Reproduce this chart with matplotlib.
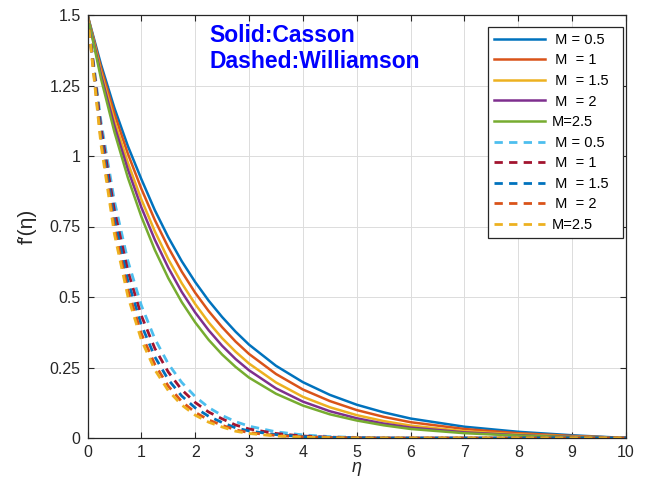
import matplotlib
matplotlib.use("Agg")
import matplotlib.pyplot as plt

plt.rcParams['font.family'] = ['Liberation Sans', 'DejaVu Sans']
plt.rcParams['mathtext.fontset'] = 'custom'
plt.rcParams['mathtext.rm'] = 'Liberation Sans'
plt.rcParams['mathtext.it'] = 'Liberation Sans:italic'
plt.rcParams['lines.scale_dashes'] = False

# eta sample points
eta = [0, 0.25, 0.5, 0.75, 1, 1.25, 1.5, 1.75, 2, 2.25, 2.5, 2.75, 3,
       3.5, 4, 4.5, 5, 5.5, 6, 7, 8, 9, 10]

# Casson (solid) f'(eta)
casson_M05 = [1.5, 1.325, 1.170, 1.035, 0.918, 0.808, 0.712, 0.627, 0.553, 0.487, 0.429, 0.377, 0.331,
              0.256, 0.198, 0.153, 0.118, 0.091, 0.069, 0.040, 0.022, 0.0097, 0]
casson_M1 = [1.5, 1.313, 1.150, 1.008, 0.884, 0.773, 0.676, 0.590, 0.515, 0.450, 0.393, 0.342, 0.298,
             0.227, 0.172, 0.131, 0.099, 0.075, 0.056, 0.032, 0.017, 0.0073, 0]
casson_M15 = [1.5, 1.299, 1.126, 0.976, 0.846, 0.733, 0.634, 0.549, 0.475, 0.410, 0.354, 0.306, 0.264,
              0.197, 0.146, 0.109, 0.081, 0.060, 0.044, 0.024, 0.0125, 0.0054, 0]
casson_M2 = [1.5, 1.288, 1.107, 0.952, 0.818, 0.703, 0.604, 0.518, 0.445, 0.382, 0.327, 0.280, 0.240,
             0.176, 0.129, 0.095, 0.070, 0.051, 0.037, 0.020, 0.010, 0.0042, 0]
casson_M25 = [1.5, 1.275, 1.085, 0.923, 0.785, 0.667, 0.567, 0.482, 0.410, 0.348, 0.296, 0.252, 0.214,
              0.157, 0.115, 0.084, 0.062, 0.045, 0.032, 0.017, 0.0085, 0.0033, 0]

# Williamson (dashed) f'(eta)
will_M05 = [1.5, 1.122, 0.840, 0.628, 0.470, 0.352, 0.263, 0.197, 0.147, 0.108, 0.080, 0.058, 0.042,
            0.022, 0.011, 0.005, 0.002, 0.001, 0, 0, 0, 0, 0]
will_M1 = [1.5, 1.100, 0.807, 0.592, 0.434, 0.318, 0.234, 0.171, 0.126, 0.092, 0.068, 0.046, 0.032,
           0.016, 0.007, 0.003, 0.001, 0, 0, 0, 0, 0, 0]
will_M15 = [1.5, 1.078, 0.775, 0.557, 0.401, 0.288, 0.207, 0.149, 0.107, 0.077, 0.055, 0.036, 0.025,
            0.012, 0.005, 0.002, 0.001, 0, 0, 0, 0, 0, 0]
will_M2 = [1.5, 1.057, 0.745, 0.525, 0.370, 0.261, 0.184, 0.129, 0.091, 0.064, 0.045, 0.029, 0.019,
           0.009, 0.004, 0.0015, 0.0005, 0, 0, 0, 0, 0, 0]
will_M25 = [1.5, 1.041, 0.723, 0.502, 0.348, 0.242, 0.168, 0.117, 0.081, 0.056, 0.039, 0.024, 0.016,
            0.007, 0.003, 0.001, 0, 0, 0, 0, 0, 0, 0]

casson_series = [casson_M05, casson_M1, casson_M15, casson_M2, casson_M25]
will_series = [will_M05, will_M1, will_M15, will_M2, will_M25]
casson_labels = [' M = 0.5', ' M  = 1', ' M  = 1.5  ', ' M  = 2', 'M=2.5']
will_labels = [' M = 0.5', ' M  = 1', ' M  = 1.5  ', ' M  = 2', 'M=2.5']
casson_colors = ['#0072BD', '#D95319', '#EDB120', '#7E2F8E', '#77AC30']
will_colors = ['#4DBEEE', '#A2142F', '#0072BD', '#D95319', '#EDB120']

xticks = [0, 1, 2, 3, 4, 5, 6, 7, 8, 9, 10]
yticks = [0, 0.25, 0.5, 0.75, 1, 1.25, 1.5]
yticklabels = ['0', '0.25', '0.5', '0.75', '1', '1.25', '1.5']

fig = plt.figure(figsize=(6.46, 4.8), dpi=100)
ax = fig.add_axes([87.5 / 646, 42 / 480, 538.5 / 646, 423 / 480])

handles = []
for ys, lab, col in zip(casson_series, casson_labels, casson_colors):
    h, = ax.plot(eta, ys, color=col, lw=1.8, label=lab, solid_joinstyle='round')
    handles.append(h)
for ys, lab, col in zip(will_series, will_labels, will_colors):
    h, = ax.plot(eta, ys, color=col, lw=2.0, label=lab, dashes=(6, 4.5),
                 dash_capstyle='butt')
    handles.append(h)

ax.set_xlim(0, 10)
ax.set_ylim(0, 1.5)
ax.set_xticks(xticks)
ax.set_xticklabels([str(t) for t in xticks])
ax.set_yticks(yticks)
ax.set_yticklabels(yticklabels)
ax.tick_params(direction='in', top=True, right=True, labelsize=11.5,
               colors='#262626', length=4, width=0.8, pad=5)
for sp in ax.spines.values():
    sp.set_color('#262626')
    sp.set_linewidth(0.9)
ax.grid(True, color='#dcdcdc', lw=0.7)
ax.set_axisbelow(True)

ax.set_xlabel(r'$\eta$', fontsize=13, color='#262626', labelpad=0)
ax.set_ylabel("f\u2032(\u03b7)", fontsize=15, color='#262626', labelpad=9,
              family=['Liberation Sans', 'DejaVu Sans'])

ax.text(2.27, 1.468, 'Solid:Casson\nDashed:Williamson', color='#0000FF',
        fontsize=16.5, fontweight='bold', va='top', ha='left', linespacing=1.15)

leg = ax.legend(handles=handles, loc='upper right',
                bbox_to_anchor=((623 - 87.5) / 538.5, (438 - 27) / 423),
                borderaxespad=0, fontsize=10.5, handlelength=3.5,
                handletextpad=0.45, labelspacing=0.45, frameon=True,
                fancybox=False, framealpha=1, edgecolor='#262626',
                borderpad=0.4)
leg.get_frame().set_linewidth(0.9)

fig.savefig('out.png', dpi=100)
